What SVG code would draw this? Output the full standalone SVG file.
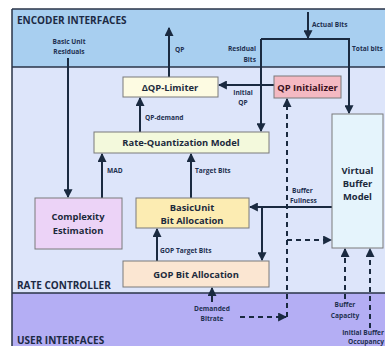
<svg xmlns="http://www.w3.org/2000/svg" width="385" height="346" viewBox="0 0 385 346">
<defs>
<style>
.lbl{font-family:"Open Sans","Noto Sans",sans-serif;font-weight:bold;font-size:6.6px;fill:#1e3050}
.ttl{font-family:"Open Sans","Noto Sans",sans-serif;font-weight:bold;font-size:10px;fill:#1c2a44}
.box{stroke:#7a7a7a;stroke-width:1}
.bt{font-family:"Open Sans","Noto Sans",sans-serif;font-weight:bold;font-size:9.4px;fill:#1c2a3c;text-anchor:middle}
.ln{stroke:#1a2a40;stroke-width:2;fill:none}
.dl{stroke:#1a2a40;stroke-width:2;fill:none;stroke-dasharray:5 4}
</style>
<marker id="ah" viewBox="0 0 8 8" refX="7" refY="4" markerWidth="4.5" markerHeight="4.5" orient="auto" markerUnits="strokeWidth">
<path d="M0,0 L8,4 L0,8 z" fill="#1a2a40"/>
</marker>
</defs>
<rect x="0" y="0" width="385" height="346" fill="#ffffff"/>
<g id="bands">
<rect x="12" y="9" width="373" height="58" fill="#a8cff0"/>
<rect x="12" y="67" width="373" height="226" fill="#dde5fa"/>
<rect x="12" y="293" width="373" height="53" fill="#b4aef4"/>
<path d="M12,9 H385 M12,67 H385 M12,293 H385 M12,9 V346" stroke="#2a3548" stroke-width="1.5" fill="none"/>
<text class="ttl" x="17" y="24">ENCODER INTERFACES</text>
<text class="ttl" x="17" y="289">RATE CONTROLLER</text>
<text class="ttl" x="17" y="344">USER INTERFACES</text>
</g>
<g id="connectors">
<line class="ln" x1="68" y1="58" x2="68" y2="197" marker-end="url(#ah)"/>
<line class="ln" x1="169" y1="77" x2="169" y2="28" marker-end="url(#ah)"/>
<line class="ln" x1="308" y1="12" x2="308" y2="38" marker-end="url(#ah)"/>
<path class="ln" d="M261,39 H349 V113" marker-end="url(#ah)"/>
<line class="ln" x1="261" y1="39" x2="261" y2="131" marker-end="url(#ah)"/>
<line class="ln" x1="140" y1="132" x2="140" y2="98" marker-end="url(#ah)"/>
<line class="ln" x1="274" y1="85" x2="219" y2="85" marker-end="url(#ah)"/>
<line class="ln" x1="102" y1="198" x2="102" y2="154" marker-end="url(#ah)"/>
<line class="ln" x1="191" y1="198" x2="191" y2="154" marker-end="url(#ah)"/>
<line class="ln" x1="332" y1="207" x2="250" y2="207" marker-end="url(#ah)"/>
<line class="ln" x1="262" y1="207" x2="262" y2="260" marker-end="url(#ah)"/>
<line class="ln" x1="157" y1="261" x2="157" y2="229" marker-end="url(#ah)"/>
<line class="ln" x1="212" y1="302" x2="212" y2="288" marker-end="url(#ah)"/>
<line class="dl" x1="287" y1="317" x2="287" y2="99" marker-end="url(#ah)"/>
<line class="dl" x1="287" y1="240" x2="331" y2="240" marker-end="url(#ah)"/>
<line class="dl" x1="240" y1="317" x2="286" y2="317" marker-end="url(#ah)"/>
<line class="dl" x1="345" y1="299" x2="345" y2="249" marker-end="url(#ah)"/>
<line class="dl" x1="370" y1="328" x2="370" y2="249" marker-end="url(#ah)"/>
</g>
<g id="labels">
<text class="lbl" x="69" y="44" text-anchor="middle">Basic Unit</text>
<text class="lbl" x="69" y="54" text-anchor="middle">Residuals</text>
<text class="lbl" x="175" y="52">QP</text>
<text class="lbl" x="312" y="27">Actual Bits</text>
<text class="lbl" x="256" y="51" text-anchor="end">Residual</text>
<text class="lbl" x="256" y="62" text-anchor="end">Bits</text>
<text class="lbl" x="352" y="51">Total bits</text>
<text class="lbl" x="243" y="95" text-anchor="middle">Initial</text>
<text class="lbl" x="243" y="105" text-anchor="middle">QP</text>
<text class="lbl" x="145" y="120">QP-demand</text>
<text class="lbl" x="107" y="173">MAD</text>
<text class="lbl" x="195" y="173">Target Bits</text>
<text class="lbl" x="292" y="193">Buffer</text>
<text class="lbl" x="290" y="203">Fullness</text>
<text class="lbl" x="160" y="253">GOP Target Bits</text>
<text class="lbl" x="212" y="311" text-anchor="middle">Demanded</text>
<text class="lbl" x="212" y="321" text-anchor="middle">Bitrate</text>
<text class="lbl" x="345" y="307" text-anchor="middle">Buffer</text>
<text class="lbl" x="345" y="318" text-anchor="middle">Capacity</text>
<text class="lbl" x="384" y="335" text-anchor="end">Initial Buffer</text>
<text class="lbl" x="384" y="344" text-anchor="end">Occupancy</text>
</g>
<g id="dqp-limiter">
<rect class="box" x="123" y="77" width="95" height="20" fill="#fdfbe2"/>
<text class="bt" x="170" y="91">ΔQP-Limiter</text>
</g>
<g id="qp-initializer">
<rect class="box" x="274" y="76" width="67" height="22" fill="#f4b9c2"/>
<text class="bt" x="307.5" y="90.5" style="fill:#3a1020">QP Initializer</text>
</g>
<g id="rq-model">
<rect class="box" x="94" y="132" width="175" height="21" fill="#f3f9dc"/>
<text class="bt" x="181" y="146">Rate-Quantization Model</text>
</g>
<g id="complexity">
<rect class="box" x="35" y="198" width="87" height="51" fill="#ecd3f7"/>
<text class="bt" x="78" y="220">Complexity</text>
<text class="bt" x="78" y="234">Estimation</text>
</g>
<g id="basicunit">
<rect class="box" x="136" y="198" width="113" height="30" fill="#fcecb2"/>
<text class="bt" x="192" y="210.5">BasicUnit</text>
<text class="bt" x="192" y="223.5">Bit Allocation</text>
</g>
<g id="gop">
<rect class="box" x="123" y="261" width="146" height="26" fill="#fbe6d2"/>
<text class="bt" x="196" y="278">GOP Bit Allocation</text>
</g>
<g id="vbm">
<rect class="box" x="332" y="114" width="51" height="134" fill="#e5f4fc"/>
<text class="bt" x="357.5" y="174">Virtual</text>
<text class="bt" x="357.5" y="187">Buffer</text>
<text class="bt" x="357.5" y="200">Model</text>
</g>
</svg>
